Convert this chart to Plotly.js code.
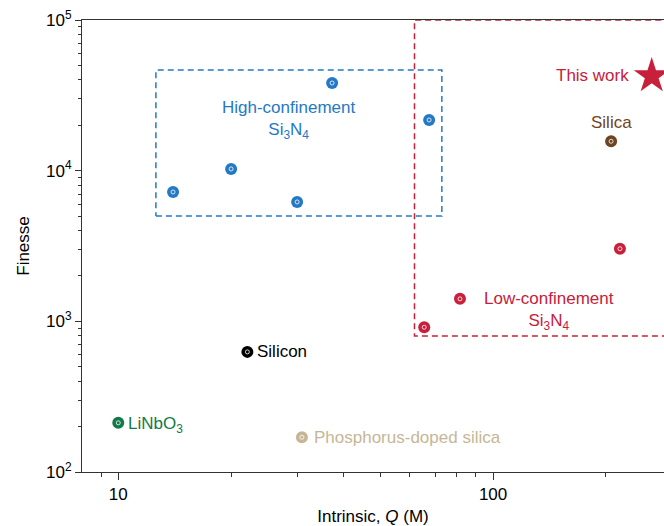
<!DOCTYPE html>
<html><head><meta charset="utf-8">
<script src="https://cdn.plot.ly/plotly-3.0.1.min.js"></script>
<style>html,body{margin:0;padding:0;background:#fff}#chart{width:664px;height:526px}</style>
</head><body><div id="chart"></div>
<script>
// Data (Intrinsic Q in millions, Finesse)
const hcQ = [14.0, 20.0, 30.0, 37.2, 67.5];
const hcF = [7220, 10270, 6200, 38200, 21700];
const lcQ = [65.5, 81.6, 218];
const lcF = [914, 1410, 3035];
const silicaQ = [206.5];
const silicaF = [15670];
const siliconQ = [22.1];
const siliconF = [627];
const linbQ = [10];
const linbF = [212];
const phosQ = [30.9];
const phosF = [170];
const thisQ = [265];
const thisF = [42500];
// Region boxes
const hcBoxQ = [12.6, 73, 73, 12.6, 12.6];
const hcBoxF = [5000, 5000, 46500, 46500, 5000];
const lcBoxQ = [1000, 61.7, 61.7, 1000];
const lcBoxF = [800, 800, 100000, 100000];
// Tick labels
const yTickVals = [100, 1000, 10000, 100000];
const yTickText = ['10<sup>2</sup>', '10<sup>3</sup>', '10<sup>4</sup>', '10<sup>5</sup>'];
const xTickVals = [10, 100];
const xTickText = ['10', '100'];
const xMinor = [9, 20, 30, 40, 50, 60, 70, 80, 90, 200];
const yMinor = [];
[100, 1000, 10000].forEach(d => { for (let k = 2; k <= 9; k++) yMinor.push(k * d); });

const BLUE = '#2479c4', RED = '#c8203a', BROWN = '#6e4524', GREEN = '#117a48', BEIGE = '#c6b696';
const FONT = 'Liberation Sans, Arial, Helvetica, sans-serif';
const FS = 17;

function pts(x, y, color) {
  return [
    {x: x, y: y, type: 'scatter', mode: 'markers', hoverinfo: 'skip',
     marker: {symbol: 'circle', size: 12, color: color, line: {width: 0}}},
    {x: x, y: y, type: 'scatter', mode: 'markers', hoverinfo: 'skip',
     marker: {symbol: 'circle-open', size: 4, color: '#ffffff', line: {width: 0.8, color: '#ffffff'}}}
  ];
}

const traces = [
  {x: hcBoxQ, y: hcBoxF, type: 'scatter', mode: 'lines', hoverinfo: 'skip',
   line: {color: BLUE, width: 1.5, dash: '6px,4px'}},
  {x: lcBoxQ, y: lcBoxF, type: 'scatter', mode: 'lines', hoverinfo: 'skip',
   line: {color: RED, width: 1.5, dash: '6px,4px'}},
  ...pts(hcQ, hcF, BLUE),
  ...pts(lcQ, lcF, RED),
  ...pts(silicaQ, silicaF, BROWN),
  ...pts(siliconQ, siliconF, '#000000'),
  ...pts(linbQ, linbF, GREEN),
  ...pts(phosQ, phosF, BEIGE),
  {x: thisQ, y: thisF, type: 'scatter', mode: 'markers', hoverinfo: 'skip', cliponaxis: false,
   marker: {symbol: 'star', size: 27, color: RED, line: {width: 0}}}
];

const L = Math.log10;
const annotations = [
  {x: L(28.6), y: 4.336, text: 'High-confinement<br>Si<sub>3</sub>N<sub>4</sub>', showarrow: false,
   font: {color: BLUE, size: FS}, xanchor: 'center', yanchor: 'middle'},
  {x: 2.149, y: 3.069, text: 'Low-confinement<br>Si<sub>3</sub>N<sub>4</sub>', showarrow: false,
   font: {color: RED, size: FS}, xanchor: 'center', yanchor: 'middle'},
  {x: L(thisQ[0]), y: L(thisF[0]), text: 'This work', showarrow: false, xanchor: 'right', yanchor: 'middle',
   xshift: -21, font: {color: RED, size: FS}},
  {x: L(silicaQ[0]), y: L(silicaF[0]), text: 'Silica', showarrow: false, xanchor: 'center', yanchor: 'bottom',
   yshift: 7, font: {color: BROWN, size: FS}},
  {x: L(siliconQ[0]), y: L(siliconF[0]), text: 'Silicon', showarrow: false, xanchor: 'left', yanchor: 'middle',
   xshift: 8, font: {color: '#000', size: FS}},
  {x: L(linbQ[0]), y: L(linbF[0]), text: 'LiNbO<sub>3</sub>', showarrow: false, xanchor: 'left', yanchor: 'middle',
   xshift: 8, yshift: -2, font: {color: GREEN, size: FS}},
  {x: L(phosQ[0]), y: L(phosF[0]), text: 'Phosphorus-doped silica', showarrow: false, xanchor: 'left', yanchor: 'middle',
   xshift: 10, font: {color: BEIGE, size: FS}}
];

const layout = {
  width: 664, height: 526,
  margin: {l: 82, r: 0, t: 20, b: 54},
  paper_bgcolor: '#fff', plot_bgcolor: '#fff',
  showlegend: false,
  font: {family: FONT, size: FS, color: '#000'},
  xaxis: {
    type: 'log', range: [0.9032, 2.456], showgrid: false, zeroline: false,
    showline: true, linecolor: '#333', linewidth: 1, mirror: true,
    ticks: 'outside', ticklen: 7, tickwidth: 1, tickcolor: '#333',
    tickmode: 'array', tickvals: xTickVals, ticktext: xTickText,
    tickfont: {size: FS, family: FONT},
    minor: {tickmode: 'array', tickvals: xMinor, ticks: 'outside', ticklen: 4, tickwidth: 1, tickcolor: '#333', showgrid: false},
    title: {text: 'Intrinsic, <i>Q</i> (M)', font: {size: FS, family: FONT}, standoff: 12}
  },
  yaxis: {
    type: 'log', range: [2, 5], showgrid: false, zeroline: false,
    showline: true, linecolor: '#333', linewidth: 1, mirror: true,
    ticks: 'outside', ticklen: 6, tickwidth: 1, tickcolor: '#333',
    tickmode: 'array', tickvals: yTickVals, ticktext: yTickText,
    tickfont: {size: FS, family: FONT},
    minor: {tickmode: 'array', tickvals: yMinor, ticks: 'outside', ticklen: 3, tickwidth: 1, tickcolor: '#333', showgrid: false},
    title: {text: 'Finesse', font: {size: FS, family: FONT}, standoff: 12}
  },
  annotations: annotations
};

Plotly.newPlot('chart', traces, layout, {staticPlot: true, displayModeBar: false});
</script>
</body></html>
